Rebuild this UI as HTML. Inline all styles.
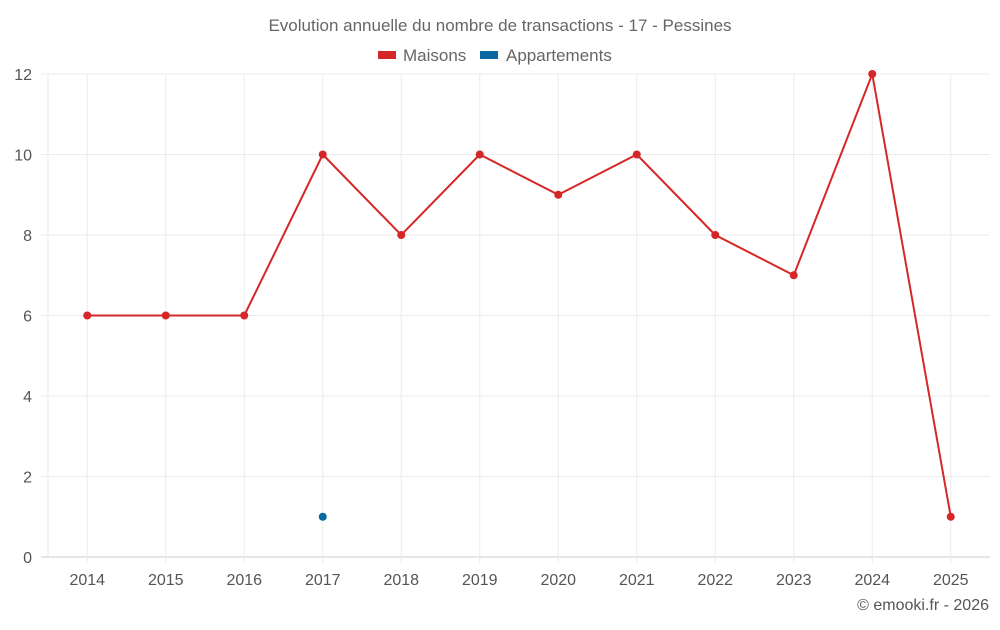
<!DOCTYPE html>
<html><head><meta charset="utf-8"><style>
body{margin:0;background:#fff;font-family:"Liberation Sans",sans-serif}
</style></head><body>
<svg id="c" width="1000" height="625" xmlns="http://www.w3.org/2000/svg">
<text x="500" y="31" text-anchor="middle" font-size="17" fill="#666">Evolution annuelle du nombre de transactions - 17 - Pessines</text>
<g><rect x="378" y="51" width="18" height="8" fill="#d62728"/><text x="403" y="61" font-size="17" fill="#666">Maisons</text></g>
<g><rect x="480" y="51" width="18" height="8" fill="#08689f"/><text x="506" y="61" font-size="17" fill="#666">Appartements</text></g>
<g id="grid"></g><g id="axes"></g><g id="series"></g>
<text x="989" y="610" text-anchor="end" font-size="16" fill="#555">© emooki.fr - 2026</text>
</svg>
<script>
const years=[2014,2015,2016,2017,2018,2019,2020,2021,2022,2023,2024,2025];
const maisons=[6,6,6,10,8,10,9,10,8,7,12,1];
const appartements=[null,null,null,1,null,null,null,null,null,null,null,null];
const yTicks=[0,2,4,6,8,10,12];
const L=48,R=990,T=74,B=557,ymax=12;
const bw=(R-L)/years.length;
const x=i=>L+bw*(i+0.5);
const y=v=>B-(v/ymax)*(B-T);
const NS="http://www.w3.org/2000/svg";
function mk(t,a,p){const e=document.createElementNS(NS,t);for(const k in a)e.setAttribute(k,a[k]);p.appendChild(e);return e;}
const g=document.getElementById('grid'),ax=document.getElementById('axes'),s=document.getElementById('series');
mk('line',{x1:L,x2:L,y1:T,y2:B,stroke:'#ebebeb'},g);
yTicks.forEach(v=>{
 const l=mk('line',{x1:41,x2:R,y1:y(v),y2:y(v),stroke:v===0?'#ccc':'#ebebeb'},g);
 
 
 const t=mk('text',{x:32,y:y(v)+6,'text-anchor':'end','font-size':16,fill:'#555'},ax);t.textContent=v;
 
 
});
years.forEach((yr,i)=>{
 const l=mk('line',{x1:x(i),x2:x(i),y1:T,y2:B+6,stroke:'#ebebeb'},g);
 
 
 const t=mk('text',{x:x(i),y:585,'text-anchor':'middle','font-size':16,fill:'#555'},ax);t.textContent=yr;
 
 
});
const pts=maisons.map((v,i)=>x(i)+','+y(v)).join(' ');
const pl=mk('polyline',{points:pts,fill:'none',stroke:'#d62728','stroke-width':2},s);


maisons.forEach((v,i)=>{
 const c=mk('circle',{cx:x(i),cy:y(v),r:4,fill:'#d62728'},s);
 
 
});
appartements.forEach((v,i)=>{
 if(v==null)return;
 const c=mk('circle',{cx:x(i),cy:y(v),r:4,fill:'#08689f'},s);
 
 
});
</script>
</body></html>
